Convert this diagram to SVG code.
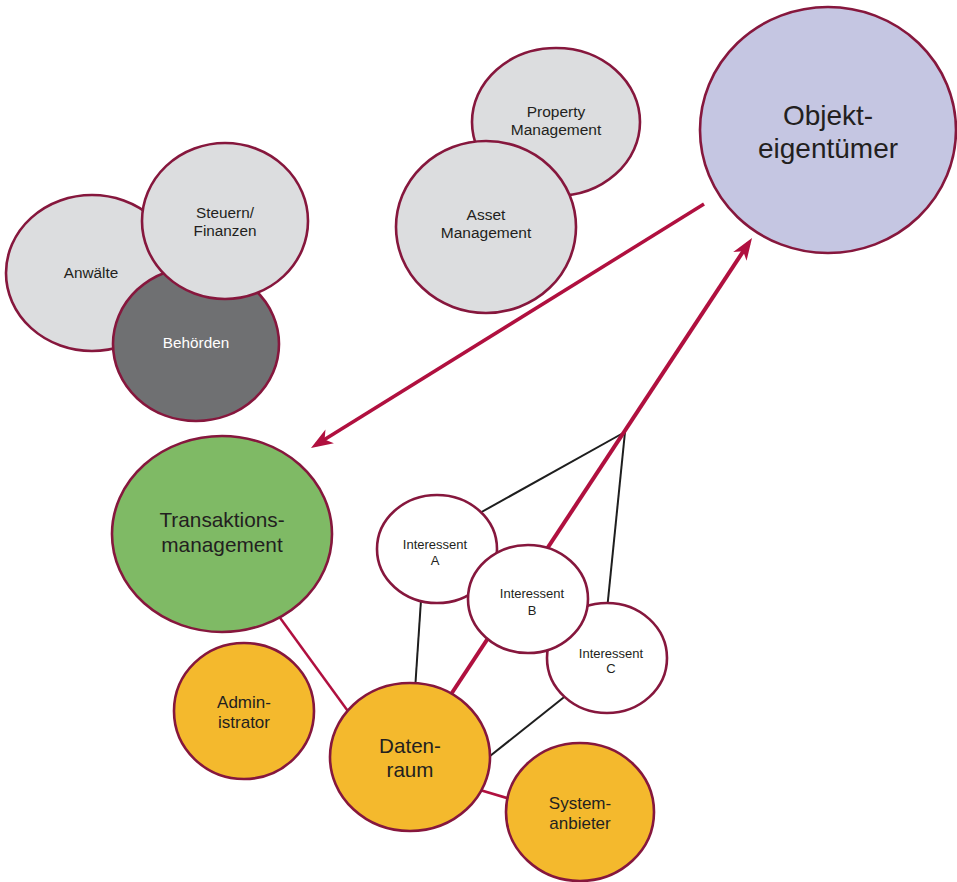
<svg xmlns="http://www.w3.org/2000/svg" width="957" height="882" viewBox="0 0 957 882">
<style>
.n{stroke:#86173d;stroke-width:2.6}
.grey{fill:#dcdddf}
.dark{fill:#6f7072}
.lav{fill:#c5c6e2}
.green{fill:#7fba65}
.orange{fill:#f4b92d}
.white{fill:#ffffff}
text{font-family:"Liberation Sans",Arial,sans-serif;fill:#231f20;text-anchor:middle}
.blk{stroke:#1e1e1e;stroke-width:2;fill:none}
.red{stroke:#b0103f;fill:none}
</style>
<defs>
<marker id="ah" markerUnits="userSpaceOnUse" markerWidth="26" markerHeight="20" viewBox="-1 -10 26 20" refX="16" refY="0" orient="auto">
<path d="M0,-8 L22,0 L0,8 L6,0 Z" fill="#b0103f"/>
</marker>
</defs>
<g id="connectors">
<line class="blk" x1="625" y1="432" x2="478" y2="514"/>
<line class="blk" x1="625" y1="432" x2="607" y2="610"/>
<line class="blk" x1="421" y1="600" x2="415" y2="690"/>
<line class="blk" x1="568" y1="694" x2="485" y2="760"/>
<line class="red" stroke-width="2.5" x1="278" y1="615" x2="350" y2="714"/>
<line class="red" stroke-width="2.8" x1="480" y1="790" x2="510" y2="799"/>
<line class="red" stroke-width="4" x1="440" y1="711" x2="748.7" y2="243" marker-end="url(#ah)"/>
<line class="red" stroke-width="3.5" x1="704" y1="204" x2="316.1" y2="444.8" marker-end="url(#ah)"/>
</g>
<g id="objekteigentuemer">
<ellipse class="n lav" cx="828" cy="130" rx="128" ry="123"/>
<text x="828" y="125" font-size="28">Objekt-</text>
<text x="828" y="158" font-size="28">eigentümer</text>
</g>
<g id="property-management">
<ellipse class="n grey" cx="556" cy="122" rx="84" ry="74"/>
<text x="556" y="117" font-size="15.5">Property</text>
<text x="556" y="135" font-size="15.5">Management</text>
</g>
<g id="asset-management">
<ellipse class="n grey" cx="486" cy="227" rx="90" ry="86"/>
<text x="486" y="220" font-size="15.5">Asset</text>
<text x="486" y="238" font-size="15.5">Management</text>
</g>
<g id="anwaelte">
<ellipse class="n grey" cx="92" cy="273" rx="86" ry="78"/>
<text x="91" y="278" font-size="15.3">Anwälte</text>
</g>
<g id="behoerden">
<ellipse class="n dark" cx="196" cy="344" rx="83" ry="77"/>
<text x="196" y="348" font-size="15.3" style="fill:#ffffff">Behörden</text>
</g>
<g id="steuern-finanzen">
<ellipse class="n grey" cx="225" cy="221" rx="83" ry="78"/>
<text x="225" y="218" font-size="15.3">Steuern/</text>
<text x="225" y="236" font-size="15.3">Finanzen</text>
</g>
<g id="transaktionsmanagement">
<ellipse class="n green" cx="222" cy="534" rx="110" ry="98"/>
<text x="222" y="527" font-size="20.8">Transaktions-</text>
<text x="222" y="552" font-size="20.8">management</text>
</g>
<g id="interessent-a">
<ellipse class="n white" cx="437" cy="549" rx="60" ry="54"/>
<text x="435" y="549" font-size="13">Interessent</text>
<text x="435" y="565" font-size="13">A</text>
</g>
<g id="interessent-c">
<ellipse class="n white" cx="607" cy="658" rx="60" ry="55"/>
<text x="611" y="658" font-size="13">Interessent</text>
<text x="611" y="673" font-size="13">C</text>
</g>
<g id="interessent-b">
<ellipse class="n white" cx="528" cy="599" rx="60" ry="54"/>
<text x="532" y="598" font-size="13">Interessent</text>
<text x="532" y="615" font-size="13">B</text>
</g>
<g id="administrator">
<ellipse class="n orange" cx="244" cy="711" rx="70" ry="68"/>
<text x="244" y="708" font-size="17">Admin-</text>
<text x="244" y="728" font-size="17">istrator</text>
</g>
<g id="datenraum">
<ellipse class="n orange" cx="410" cy="757" rx="80" ry="74"/>
<text x="410" y="753" font-size="20.6">Daten-</text>
<text x="410" y="777" font-size="20.6">raum</text>
</g>
<g id="systemanbieter">
<ellipse class="n orange" cx="580" cy="812" rx="74" ry="69"/>
<text x="580" y="809" font-size="17">System-</text>
<text x="580" y="829" font-size="17">anbieter</text>
</g>
</svg>
